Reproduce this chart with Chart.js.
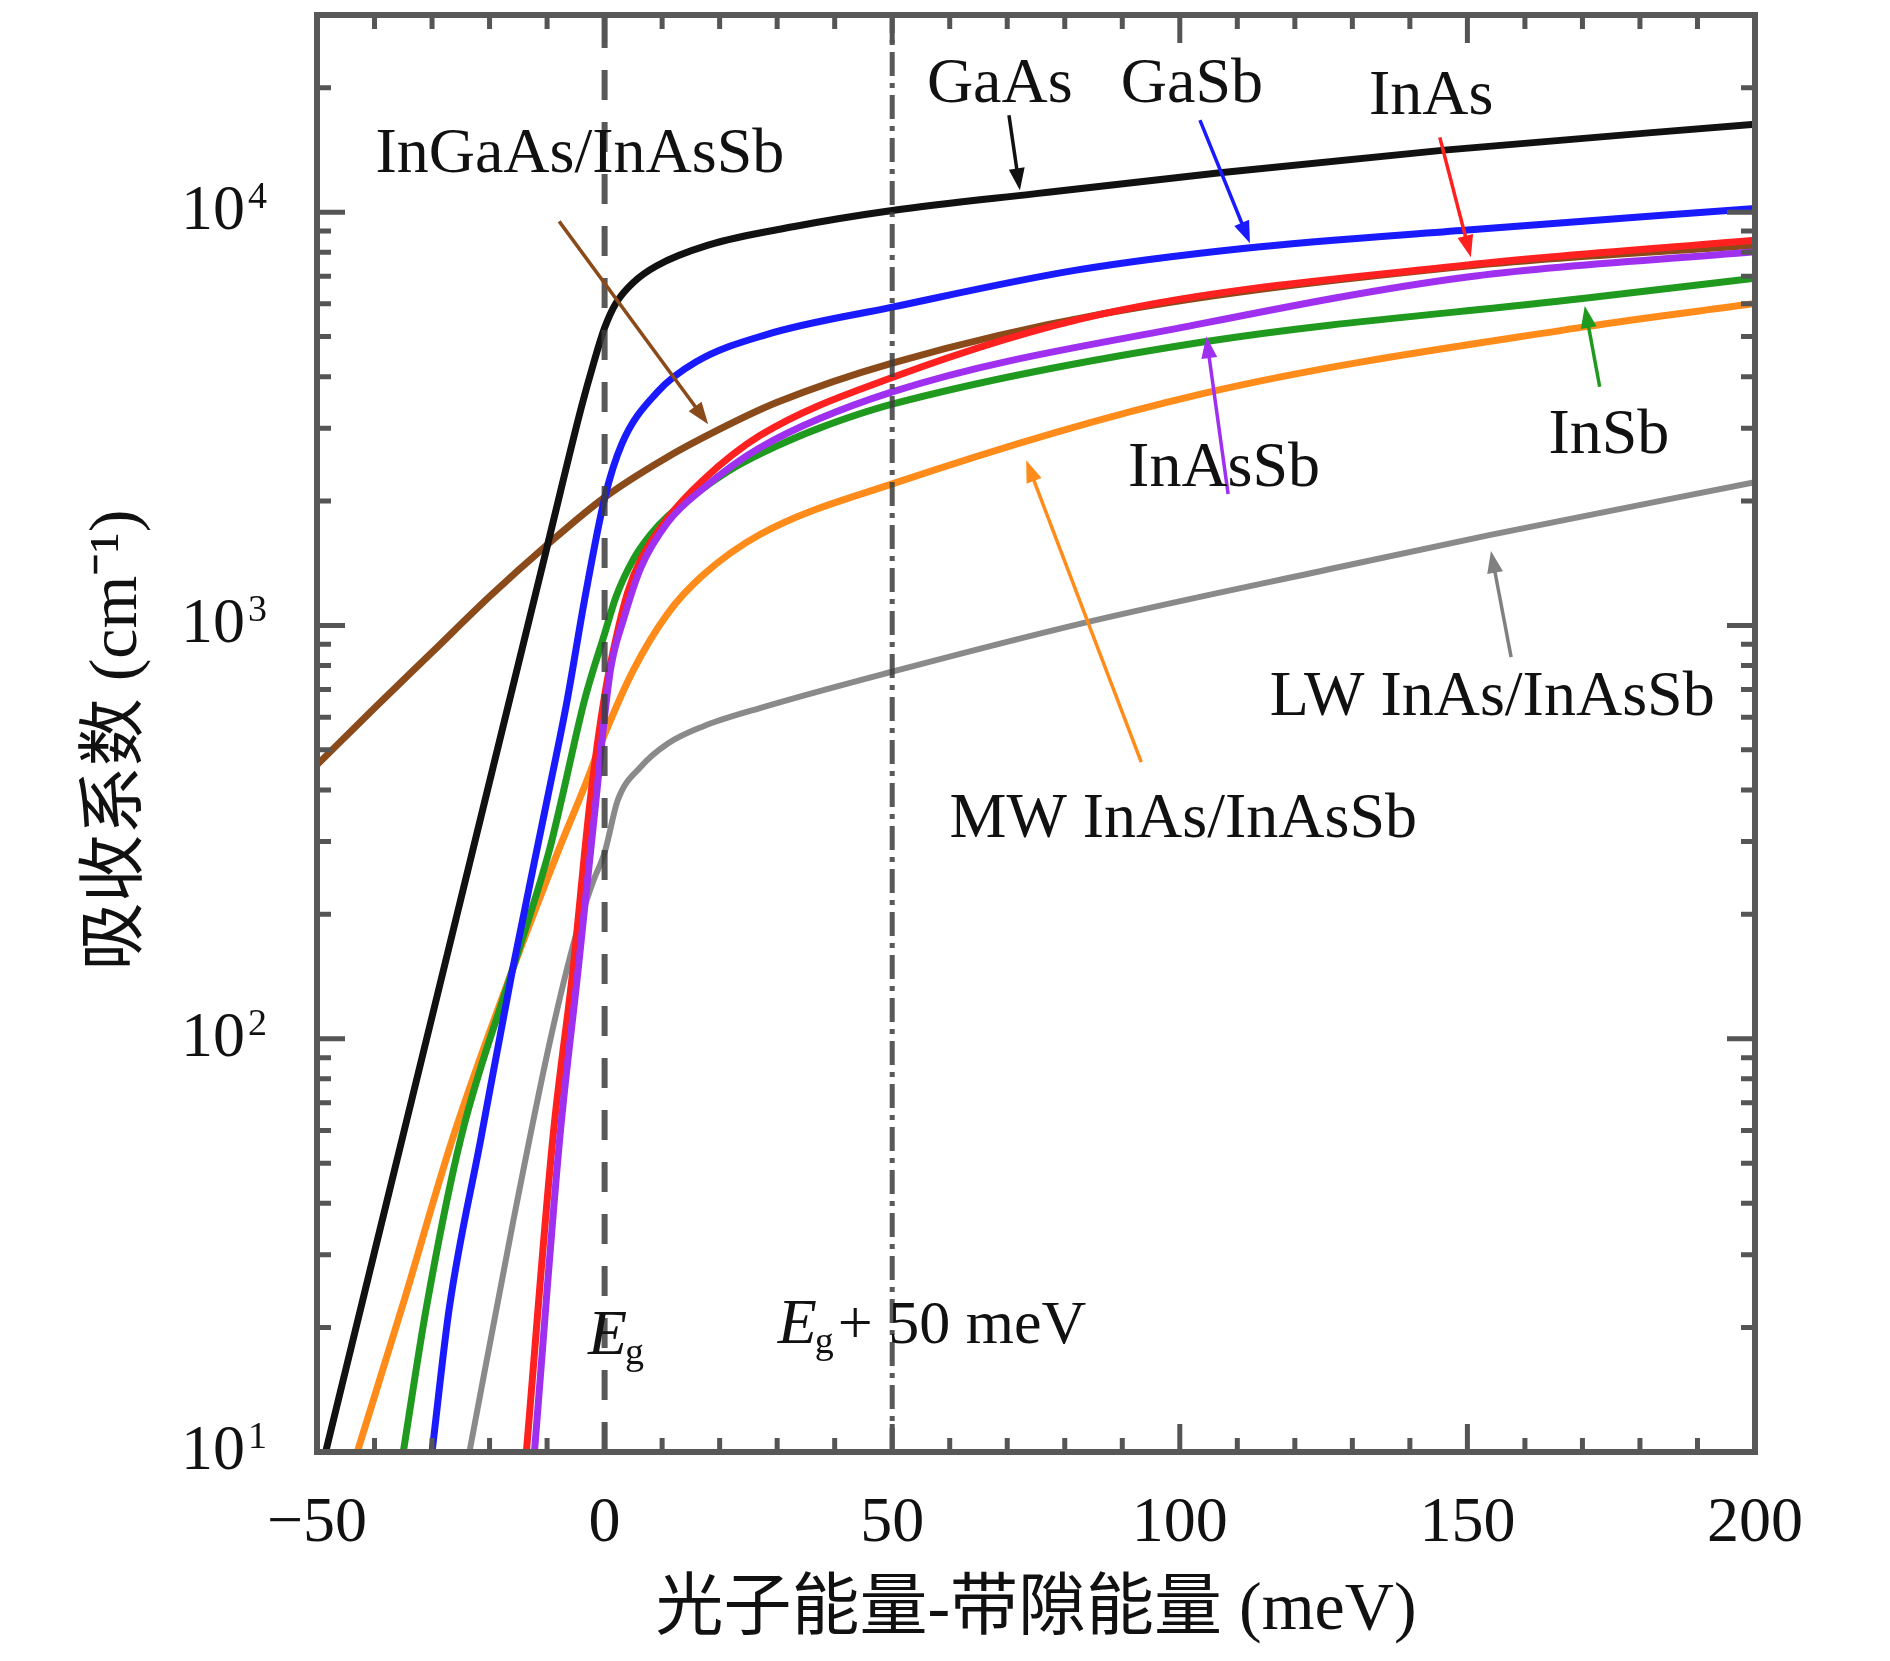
<!DOCTYPE html>
<html>
<head>
<meta charset="utf-8">
<script src="https://cdn.jsdelivr.net/npm/chart.js@4.4.1/dist/chart.umd.min.js"></script>
<style>
  html, body { margin: 0; padding: 0; background: #fff; }
  #c { display: block; }
</style>
</head>
<body>
<canvas id="c" width="1890" height="1661"></canvas>
<script>
// axis ticks
const xTicks = [-50, 0, 50, 100, 150, 200];
const yDecades = [10, 100, 1000, 10000];
const yExponents = ['1', '2', '3', '4'];

// absorption curves, photon energy minus band gap (meV) vs coefficient (cm-1)
const gaasE = [-48.5, -40, -30, -20, -10, -4, -2, 0, 2, 5, 9, 18, 33, 50, 75, 107, 146, 200];
const gaasA = [10, 30.5, 113, 419, 1550, 3390, 4270, 5250, 6030, 6760, 7410, 8320, 9230, 10090, 11090, 12450, 14130, 16330];

const gasbE = [-30, -27, -21.5, -16, -10, -6.5, -3.5, 0, 3, 9, 16, 28, 50, 82, 111, 150, 200];
const gasbA = [10, 22.3, 57.4, 147, 378, 660, 1150, 2030, 2750, 3650, 4350, 5050, 5890, 7240, 8170, 9060, 10210];

const inasE = [-13.6, -9, -5.5, -2.5, 0, 2, 4, 6.3, 11, 17, 27, 50, 87, 150, 200];
const inasA = [10, 57.4, 147, 378, 676, 933, 1202, 1445, 1820, 2240, 2880, 3980, 5690, 7450, 8550];

const inassbE = [-12.2, -7.8, -4.6, -1.5, 0, 1.1, 3.4, 6.3, 11, 17, 27, 50, 104, 150, 200];
const inassbA = [10, 57.4, 147, 378, 603, 794, 1047, 1380, 1778, 2138, 2692, 3673, 5380, 6970, 8020];

const insbE = [-35, -31, -25, -16, -9.6, -7.5, -3.5, 0, 2, 5, 8, 11, 17, 23, 30, 37, 50, 104, 170, 200];
const insbA = [10, 22.3, 57.4, 147, 286, 378, 659, 955, 1175, 1445, 1660, 1840, 2140, 2430, 2720, 2990, 3430, 4850, 6180, 6920];

const mwE = [-43, -35, -26.4, -16, -8, -3.5, 0, 5, 11, 17, 27, 50, 104, 170, 200];
const mwA = [10, 22.9, 57.5, 147, 286, 407, 545, 780, 1070, 1320, 1660, 2200, 3640, 5270, 6010];

const lwE = [-23.5, -16, -9.4, -5, -2, 0, 2.3, 6.3, 11, 17, 27, 50, 83, 128, 154, 200];
const lwA = [10, 35.5, 100, 178, 240, 282, 378, 455, 518, 569, 631, 773, 1012, 1387, 1656, 2223];

const ingaasE = [-50, -40, -30, -20, -10, 0, 10, 20, 30, 50, 87, 150, 200];
const ingaasA = [460, 631, 861, 1175, 1567, 2042, 2512, 2985, 3467, 4315, 5690, 7410, 8320];

// reference lines at Eg and Eg + 50 meV
const egE = [0, 0];
const eg50E = [50, 50];
const refA = [10, 30000];

// curve labels and their arrows (data coordinates)
const labelText = ['GaAs', 'GaSb', 'InAs', 'InGaAs/InAsSb', 'InAsSb', 'InSb', 'MW InAs/InAsSb', 'LW InAs/InAsSb'];
const labelE = [68.7, 102.1, 143.7, -4.3, 107.7, 174.6, 100.6, 154.3];
const labelA = [20280, 20280, 18970, 13740, 2390, 2870, 338, 667];
const arrowFromE = [70.3, 103.5, 145.2, -7.9, 108.4, 173.0, 93.3, 157.6];
const arrowFromA = [17170, 16700, 15170, 9500, 2080, 3780, 467, 838];
const arrowToE = [72.2, 112.2, 150.6, 18.0, 104.6, 170.4, 73.3, 154.1];
const arrowToA = [11300, 8410, 7780, 3070, 5010, 5930, 2510, 1514];
const arrowColor = ['#111111', '#1a1aff', '#ff2020', '#8b4a1a', '#a030f0', '#1f9a1f', '#ff8c1a', '#808080'];

const serif = '"Liberation Serif", "Noto Sans CJK SC", serif';

function pts(es, as) {
    return es.map((e, i) => ({x: e, y: as[i]}));
}

function curve(es, as, color, width) {
    return {
        data: pts(es, as),
        borderColor: color,
        borderWidth: width,
        pointRadius: 0,
        fill: false,
        cubicInterpolationMode: 'monotone'
    };
}

let egLine = curve(egE, refA, 'rgba(60,60,60,0.85)', 6);
egLine.borderDash = [30, 22];
egLine.cubicInterpolationMode = 'default';
let eg50Line = curve(eg50E, refA, 'rgba(60,60,60,0.85)', 5);
eg50Line.borderDash = [24, 7, 5, 7];
eg50Line.cubicInterpolationMode = 'default';

// first dataset is drawn on top
let datasets = [
    egLine,
    eg50Line,
    curve(inassbE, inassbA, '#a030f0', 7),
    curve(inasE, inasA, '#ff2020', 7),
    curve(gasbE, gasbA, '#1a1aff', 7),
    curve(insbE, insbA, '#1f9a1f', 7),
    curve(mwE, mwA, '#ff8c1a', 7),
    curve(lwE, lwA, '#8a8a8a', 6),
    curve(gaasE, gaasA, '#111111', 7),
    curve(ingaasE, ingaasA, '#8b4a1a', 7)
];

function arrow(ctx, x1, y1, x2, y2, color) {
    let ang = Math.atan2(y2 - y1, x2 - x1);
    let head = 22, half = 8;
    ctx.strokeStyle = color;
    ctx.fillStyle = color;
    ctx.lineWidth = 3.5;
    ctx.beginPath();
    ctx.moveTo(x1, y1);
    ctx.lineTo(x2 - head * 0.6 * Math.cos(ang), y2 - head * 0.6 * Math.sin(ang));
    ctx.stroke();
    ctx.beginPath();
    ctx.moveTo(x2, y2);
    ctx.lineTo(x2 - head * Math.cos(ang) + half * Math.sin(ang), y2 - head * Math.sin(ang) - half * Math.cos(ang));
    ctx.lineTo(x2 - head * Math.cos(ang) - half * Math.sin(ang), y2 - head * Math.sin(ang) + half * Math.cos(ang));
    ctx.closePath();
    ctx.fill();
}

const decorate = {
    id: 'decorate',
    beforeDraw(chart) {
        let ctx = chart.ctx;
        ctx.save();
        ctx.fillStyle = '#fff';
        ctx.fillRect(0, 0, chart.width, chart.height);
        ctx.restore();
    },
    afterDraw(chart) {
        let ctx = chart.ctx;
        let xs = chart.scales.x, ys = chart.scales.y;
        let a = chart.chartArea;
        ctx.save();

        // inward ticks on all four sides
        ctx.strokeStyle = '#555';
        ctx.lineWidth = 5;
        for (let v = -50; v <= 200; v += 10) {
            let px = xs.getPixelForValue(v);
            let len = (v % 50 === 0) ? 28 : 14;
            ctx.beginPath();
            ctx.moveTo(px, a.bottom); ctx.lineTo(px, a.bottom - len);
            ctx.moveTo(px, a.top); ctx.lineTo(px, a.top + len);
            ctx.stroke();
        }
        for (let d = 10; d <= 10000; d *= 10) {
            for (let m = 1; m <= 9; m++) {
                let v = d * m;
                if (v > 30000) break;
                let py = ys.getPixelForValue(v);
                let len = (m === 1) ? 28 : 14;
                ctx.beginPath();
                ctx.moveTo(a.left, py); ctx.lineTo(a.left + len, py);
                ctx.moveTo(a.right, py); ctx.lineTo(a.right - len, py);
                ctx.stroke();
            }
        }

        // frame
        ctx.strokeStyle = '#585858';
        ctx.lineWidth = 6;
        ctx.strokeRect(a.left, a.top, a.right - a.left, a.bottom - a.top);

        // y tick labels with exponents
        ctx.fillStyle = '#111';
        ctx.textBaseline = 'alphabetic';
        yDecades.forEach((v, i) => {
            let py = ys.getPixelForValue(v);
            ctx.font = '64px ' + serif;
            ctx.textAlign = 'right';
            ctx.fillText('10', a.left - 72, py + 17);
            ctx.font = '38px ' + serif;
            ctx.textAlign = 'left';
            ctx.fillText(yExponents[i], a.left - 69, py - 4);
        });

        // axis titles
        ctx.font = '68px ' + serif;
        ctx.textAlign = 'center';
        ctx.textBaseline = 'middle';
        ctx.fillText('光子能量-带隙能量 (meV)', (a.left + a.right) / 2, 1611);
        ctx.save();
        ctx.translate(118, 740);
        ctx.rotate(-Math.PI / 2);
        ctx.fillText('吸收系数 (cm\u207B\u00B9)', 0, 0);
        ctx.restore();

        // arrows and curve labels
        labelText.forEach((t, i) => {
            arrow(ctx, xs.getPixelForValue(arrowFromE[i]), ys.getPixelForValue(arrowFromA[i]),
                xs.getPixelForValue(arrowToE[i]), ys.getPixelForValue(arrowToA[i]), arrowColor[i]);
        });
        ctx.fillStyle = '#111';
        ctx.font = '64px ' + serif;
        ctx.textAlign = 'center';
        ctx.textBaseline = 'middle';
        labelText.forEach((t, i) => {
            ctx.fillText(t, xs.getPixelForValue(labelE[i]), ys.getPixelForValue(labelA[i]));
        });

        // Eg and Eg + 50 meV
        ctx.textAlign = 'left';
        ctx.textBaseline = 'alphabetic';
        let drawEg = (e, val, rest) => {
            let x = xs.getPixelForValue(e), y = ys.getPixelForValue(val);
            ctx.font = 'italic 64px ' + serif;
            ctx.fillText('E', x, y);
            x += ctx.measureText('E').width;
            ctx.font = '38px ' + serif;
            ctx.fillText('g', x - 2, y + 10);
            x += ctx.measureText('g').width;
            if (rest) {
                ctx.font = '62px ' + serif;
                ctx.fillText(rest, x + 2, y);
            }
        };
        drawEg(-2.9, 17.3, '');
        drawEg(30.1, 18.4, '+ 50 meV');

        ctx.restore();
    }
};

new Chart(document.getElementById('c'), {
    type: 'line',
    data: {datasets: datasets},
    options: {
        responsive: false,
        devicePixelRatio: 1,
        animation: false,
        layout: {padding: {top: 15, right: 135, left: 0, bottom: 0}},
        plugins: {legend: {display: false}, tooltip: {enabled: false}},
        scales: {
            x: {
                type: 'linear',
                min: -50,
                max: 200,
                grid: {display: false, drawTicks: false},
                border: {display: false},
                ticks: {
                    stepSize: 50,
                    autoSkip: false,
                    padding: 34,
                    color: '#111',
                    font: {family: serif, size: 64},
                    callback: v => xTicks.includes(v) ? (v < 0 ? '\u2212' + Math.abs(v) : String(v)) : ''
                },
                afterFit(scale) { scale.height = 209; }
            },
            y: {
                type: 'logarithmic',
                min: 10,
                max: 30000,
                grid: {display: false, drawTicks: false},
                border: {display: false},
                ticks: {display: false},
                afterFit(scale) { scale.width = 317; }
            }
        }
    },
    plugins: [decorate]
});
</script>
</body>
</html>
